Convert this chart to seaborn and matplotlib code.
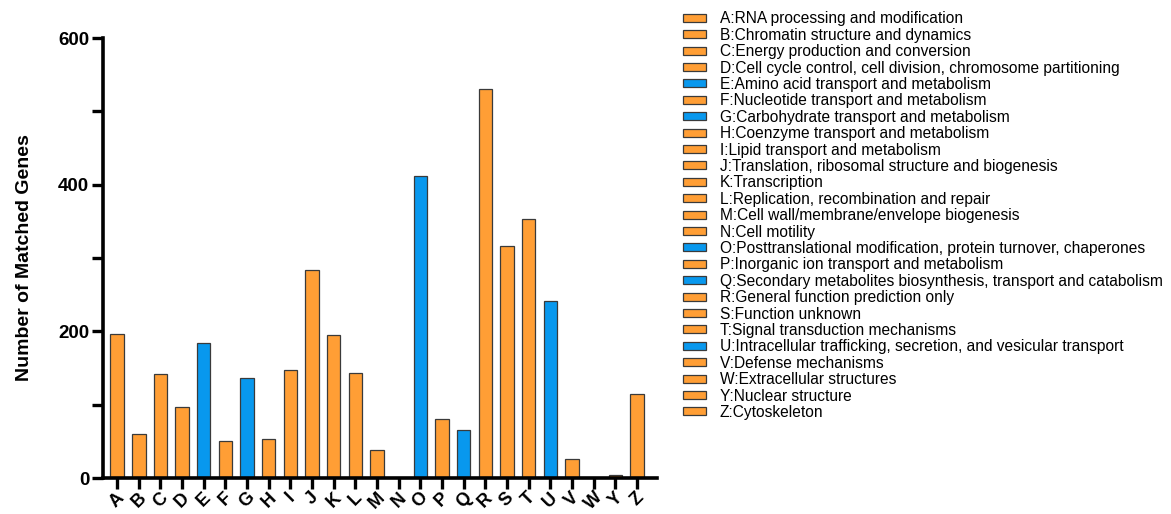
import matplotlib
matplotlib.use("Agg")
import matplotlib.pyplot as plt
import pandas as pd
import seaborn as sns
from matplotlib.ticker import MultipleLocator

# COG categories (no X in the source chart)
letters = ["A", "B", "C", "D", "E", "F", "G", "H", "I", "J", "K", "L", "M",
           "N", "O", "P", "Q", "R", "S", "T", "U", "V", "W", "Y", "Z"]
descriptions = [
    "RNA processing and modification",
    "Chromatin structure and dynamics",
    "Energy production and conversion",
    "Cell cycle control, cell division, chromosome partitioning",
    "Amino acid transport and metabolism",
    "Nucleotide transport and metabolism",
    "Carbohydrate transport and metabolism",
    "Coenzyme transport and metabolism",
    "Lipid transport and metabolism",
    "Translation, ribosomal structure and biogenesis",
    "Transcription",
    "Replication, recombination and repair",
    "Cell wall/membrane/envelope biogenesis",
    "Cell motility",
    "Posttranslational modification, protein turnover, chaperones",
    "Inorganic ion transport and metabolism",
    "Secondary metabolites biosynthesis, transport and catabolism",
    "General function prediction only",
    "Function unknown",
    "Signal transduction mechanisms",
    "Intracellular trafficking, secretion, and vesicular transport",
    "Defense mechanisms",
    "Extracellular structures",
    "Nuclear structure",
    "Cytoskeleton",
]
gene_counts = [197, 60, 142, 97, 184, 50, 137, 53, 147, 284, 195, 143, 38,
               0, 412, 80, 65, 531, 316, 353, 242, 26, 0, 4, 114]
highlighted = ["E", "G", "O", "Q", "U"]

ORANGE = "#FF9E35"
BLUE = "#0898EE"

df = pd.DataFrame({"cog": letters, "count": gene_counts})
palette = {c: (BLUE if c in highlighted else ORANGE) for c in letters}

sns.set_style("ticks")
plt.rcParams["font.family"] = ["Liberation Sans", "DejaVu Sans"]
plt.rcParams["text.color"] = "black"
plt.rcParams["axes.labelcolor"] = "black"
plt.rcParams["xtick.color"] = "black"
plt.rcParams["ytick.color"] = "black"

fig = plt.figure(figsize=(11.71, 5.14), dpi=100)
ax = fig.add_axes([0.088, 0.070, 0.473, 0.856])

sns.barplot(data=df, x="cog", y="count", hue="cog", palette=palette,
            order=letters, hue_order=letters, width=0.62, legend=False,
            edgecolor="#3a3a3a", linewidth=0.9, saturation=1, ax=ax)

ax.set_xlim(-0.65, 24.92)
ax.set_ylim(0, 600)
ax.yaxis.set_major_locator(MultipleLocator(200))
ax.yaxis.set_minor_locator(MultipleLocator(100))
ax.set_xlabel("")
ax.set_ylabel("Number of Matched Genes", fontsize=14, fontweight="bold", labelpad=18)

sns.despine(ax=ax)
for side in ["left", "bottom"]:
    ax.spines[side].set_linewidth(2.6)
    ax.spines[side].set_color("black")

ax.tick_params(axis="both", which="major", length=8, width=2.4, color="black")
ax.tick_params(axis="y", which="minor", length=8, width=2.4, color="black")
ax.tick_params(axis="y", labelsize=13.5, pad=2)
ax.tick_params(axis="x", labelsize=13, pad=0)
for lab in ax.get_yticklabels():
    lab.set_fontweight("bold")
for lab in ax.get_xticklabels():
    lab.set_fontweight("bold")
    lab.set_rotation(45)
    lab.set_ha("center")

# legend built from the drawn bars
handles = list(ax.patches)[:len(letters)]
labels = [f"{c}:{d}" for c, d in zip(letters, descriptions)]
fig.legend(handles, labels, loc="upper left", bbox_to_anchor=(0.578, 0.99),
           frameon=False, fontsize=11.2, handlelength=1.45, handleheight=0.4,
           handletextpad=0.9, labelspacing=0.09, borderaxespad=0)

fig.savefig("out.png", dpi=100)
